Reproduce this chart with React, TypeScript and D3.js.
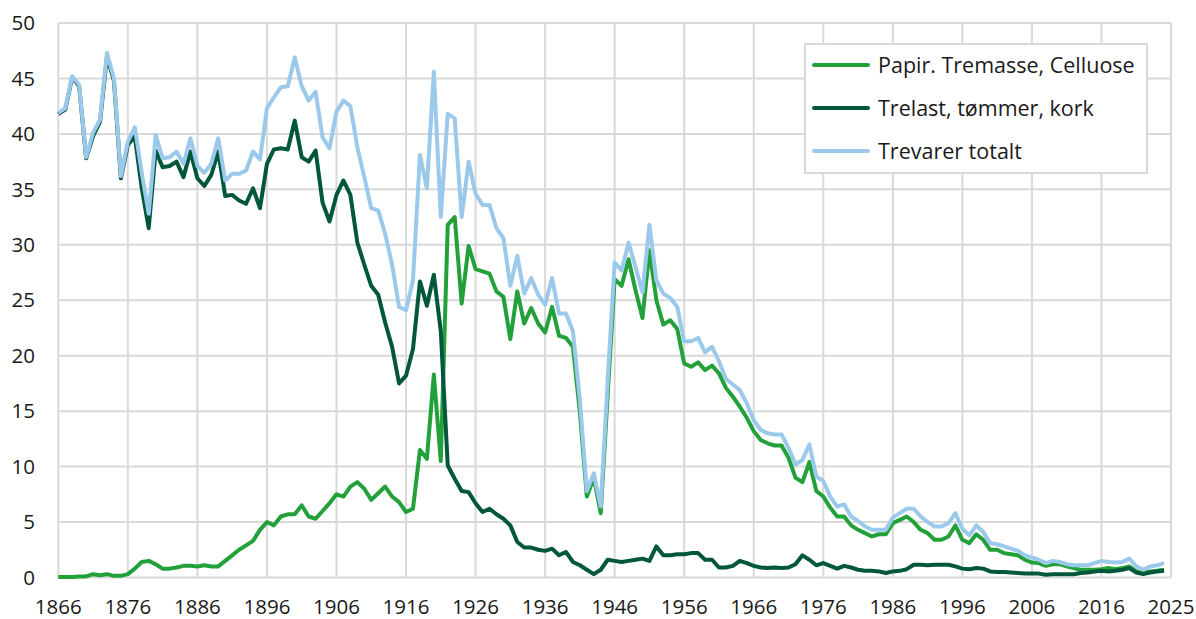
import React from 'react';
import * as d3 from 'd3';

const firstYear = 1866;

// Papir. Tremasse, Celluose
const papir = [
    0.05, 0.05, 0.05, 0.1, 0.1, 0.3, 0.2, 0.3, 0.15, 0.15,
    0.3, 0.8, 1.4, 1.5, 1.2, 0.8, 0.8, 0.9, 1.05, 1.05,
    1.0, 1.1, 1.0, 1.0, 1.5, 2.0, 2.5, 2.9, 3.3, 4.3,
    5.0, 4.7, 5.5, 5.7, 5.7, 6.5, 5.5, 5.3, 6.0, 6.7,
    7.5, 7.3, 8.2, 8.6, 8.0, 7.0, 7.6, 8.2, 7.3, 6.8,
    5.9, 6.2, 11.5, 10.7, 18.3, 10.5, 31.8, 32.5, 24.7, 29.9,
    27.8, 27.6, 27.4, 25.8, 25.3, 21.5, 25.8, 22.9, 24.3, 22.9,
    22.1, 24.4, 21.8, 21.6, 20.8, 14.9, 7.3, 9.0, 5.8, 16.5,
    26.9, 26.3, 28.7, 25.9, 23.4, 29.5, 25.0, 22.8, 23.2, 22.4,
    19.3, 19.0, 19.4, 18.7, 19.1, 18.4, 17.1, 16.3, 15.4, 14.4,
    13.2, 12.4, 12.1, 11.9, 11.9, 10.8, 9.0, 8.6, 10.4, 7.8,
    7.3, 6.3, 5.5, 5.5, 4.7, 4.3, 4.0, 3.7, 3.9, 3.9,
    4.9, 5.2, 5.5, 5.0, 4.3, 4.0, 3.4, 3.4, 3.7, 4.7,
    3.4, 3.1, 3.9, 3.4, 2.5, 2.5, 2.2, 2.1, 2.0, 1.6,
    1.35, 1.3, 1.05, 1.2, 1.2, 1.0, 0.85, 0.7, 0.7, 0.7,
    0.75, 0.85, 0.75, 0.85, 1.0, 0.55, 0.4, 0.55, 0.6, 0.7
];

// Trelast, tømmer, kork
const trelast = [
    41.8, 42.2, 45.1, 44.3, 37.8, 39.8, 41.1, 47.0, 44.8, 36.0,
    39.0, 39.8, 35.1, 31.5, 38.5, 37.0, 37.1, 37.5, 36.1, 38.4,
    36.0, 35.3, 36.3, 38.4, 34.4, 34.5, 34.0, 33.7, 35.1, 33.3,
    37.3, 38.6, 38.7, 38.6, 41.2, 37.9, 37.5, 38.5, 33.8, 32.1,
    34.5, 35.8, 34.5, 30.2, 28.2, 26.3, 25.5, 23.0, 20.8, 17.5,
    18.2, 20.6, 26.7, 24.5, 27.3, 22.2, 10.1, 8.9, 7.8, 7.7,
    6.7, 5.9, 6.2, 5.7, 5.3, 4.7, 3.2, 2.7, 2.7, 2.5,
    2.4, 2.6, 2.0, 2.3, 1.4, 1.1, 0.7, 0.3, 0.7, 1.6,
    1.5, 1.4, 1.5, 1.6, 1.7, 1.5, 2.8, 2.0, 2.0, 2.1,
    2.1, 2.2, 2.2, 1.6, 1.6, 0.9, 0.9, 1.05, 1.5, 1.3,
    1.05, 0.9, 0.85, 0.9, 0.85, 0.9, 1.2, 2.0, 1.6, 1.1,
    1.3, 1.05, 0.8, 1.05, 0.9, 0.7, 0.6, 0.6, 0.55, 0.4,
    0.55, 0.6, 0.75, 1.15, 1.15, 1.1, 1.15, 1.15, 1.15, 1.0,
    0.8, 0.75, 0.85, 0.8, 0.55, 0.5, 0.5, 0.45, 0.4, 0.35,
    0.35, 0.35, 0.25, 0.3, 0.3, 0.3, 0.3, 0.4, 0.45, 0.55,
    0.6, 0.55, 0.6, 0.7, 0.85, 0.45, 0.3, 0.45, 0.55, 0.6
];

// Trevarer totalt
const totalt = [
    41.9, 42.3, 45.2, 44.4, 37.9, 40.1, 41.3, 47.3, 45.0, 36.2,
    39.3, 40.6, 36.5, 32.8, 39.9, 37.8, 37.9, 38.4, 37.3, 39.6,
    37.1, 36.5, 37.3, 39.6, 35.8, 36.4, 36.4, 36.7, 38.4, 37.7,
    42.3, 43.3, 44.2, 44.3, 46.9, 44.3, 43.0, 43.8, 39.7, 38.7,
    42.0, 43.0, 42.5, 38.8, 36.1, 33.3, 33.1, 31.0, 28.2, 24.4,
    24.1, 26.8, 38.1, 35.1, 45.6, 32.5, 41.8, 41.4, 32.5, 37.5,
    34.6, 33.6, 33.6, 31.5, 30.6, 26.3, 29.0, 25.6, 27.0, 25.5,
    24.6, 27.0, 23.8, 23.8, 22.2, 16.0, 7.8, 9.4, 6.4, 17.8,
    28.4, 27.7, 30.2, 28.0, 25.7, 31.8, 26.8, 25.6, 25.2, 24.4,
    21.3, 21.3, 21.6, 20.3, 20.8, 19.5, 17.9, 17.4, 16.9, 15.7,
    14.2, 13.3, 13.0, 12.9, 12.9, 11.7, 10.2, 10.6, 12.0, 9.1,
    8.7, 7.3, 6.4, 6.6, 5.5, 5.1, 4.6, 4.3, 4.3, 4.3,
    5.4, 5.8, 6.2, 6.2, 5.5, 5.0, 4.6, 4.6, 4.9, 5.8,
    4.4, 3.8, 4.7, 4.1, 3.1, 3.0, 2.8, 2.6, 2.4, 2.0,
    1.8, 1.6, 1.3, 1.5, 1.4, 1.2, 1.1, 1.1, 1.1, 1.3,
    1.5, 1.4, 1.35, 1.4, 1.7, 1.0, 0.7, 1.0, 1.1, 1.3
];

const seriesNames = ['Papir. Tremasse, Celluose', 'Trelast, tømmer, kork', 'Trevarer totalt'];
const seriesColors = ['#22a13a', '#00573b', '#9bc9ec'];

const xTicks = [1866, 1876, 1886, 1896, 1906, 1916, 1926, 1936, 1946, 1956, 1966, 1976, 1986, 1996, 2006, 2016, 2026];
const xTickLabels = ['1866', '1876', '1886', '1896', '1906', '1916', '1926', '1936', '1946', '1956', '1966', '1976', '1986', '1996', '2006', '2016', '2025'];
const yTicks = [0, 5, 10, 15, 20, 25, 30, 35, 40, 45, 50];

const W = 1196, H = 619;
const margin = { top: 23, right: 25, bottom: 41.5, left: 58.3 };
const font = "'Open Sans', 'Noto Sans', sans-serif";

export default function App() {

    const x = d3.scaleLinear().domain([1866, 2026]).range([margin.left, W - margin.right]);
    const y = d3.scaleLinear().domain([0, 50]).range([H - margin.bottom, margin.top]);

    const line = d3.line<number>()
        .x((d, i) => x(firstYear + i))
        .y(d => y(d));

    const allSeries = [papir, trelast, totalt];

    const legend = { x: 805, y: 44, w: 342, h: 129, rowY: [65, 108, 151] };

    return <div style={{ position: 'absolute', left: 0, top: 0 }}>
        <svg width={W} height={H} style={{ display: 'block', background: '#fff' }}>
            {/* grid */}
            <g stroke="#d9d9d9" strokeWidth={2}>
                {yTicks.map(t => <line key={'y' + t} x1={x(1866)} x2={x(2026)} y1={y(t)} y2={y(t)} />)}
                {xTicks.map(t => <line key={'x' + t} x1={x(t)} x2={x(t)} y1={y(0)} y2={y(50)} />)}
            </g>

            {/* axis labels */}
            <g fontFamily={font} fontSize={20.5} fill="#1a1a1a">
                {yTicks.map(t => <text key={t} x={35} y={y(t)} dy="0.35em" textAnchor="end">{t}</text>)}
                {xTicks.map((t, i) => <text key={t} x={x(t)} y={613.5} textAnchor="middle">{xTickLabels[i]}</text>)}
            </g>

            {/* series */}
            {allSeries.map((s, i) =>
                <path key={i} d={line(s) || ''} fill="none" stroke={seriesColors[i]} strokeWidth={4} strokeLinejoin="round" />
            )}

            {/* legend */}
            <g>
                <rect x={legend.x} y={legend.y} width={legend.w} height={legend.h} fill="#fff" stroke="#d9d9d9" strokeWidth={2} />
                {seriesNames.map((name, i) => <g key={name}>
                    <line x1={814} x2={868} y1={legend.rowY[i]} y2={legend.rowY[i]} stroke={seriesColors[i]} strokeWidth={4} strokeLinecap="round" />
                    <text x={878} y={legend.rowY[i]} dy="0.35em" fontFamily={font} fontSize={21.5} fill="#1a1a1a">{name}</text>
                </g>)}
            </g>
        </svg>
    </div>
}
